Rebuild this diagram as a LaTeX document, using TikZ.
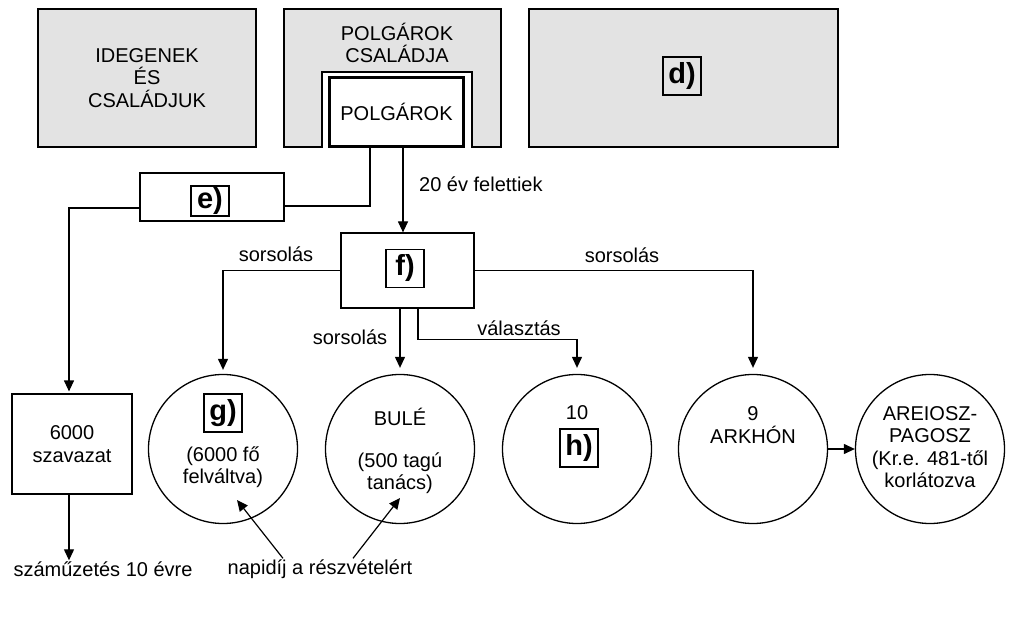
\documentclass[tikz,border=0pt]{standalone}
\usepackage{fontspec}
\setmainfont{Liberation Sans}
\usepackage{tikz}
\usetikzlibrary{arrows.meta}

\definecolor{boxgray}{HTML}{E3E3E3}

\tikzset{
  graybox/.style={draw, line width=1.2pt, fill=boxgray, align=center},
  plainbox/.style={draw, line width=1.2pt, fill=white, align=center},
  letterbox/.style={draw, line width=1.2pt, minimum width=38, minimum height=38, inner sep=0pt, font=\fontsize{29}{30}\selectfont\bfseries},
  body/.style={circle, draw, line width=1.3pt, minimum size=149, inner sep=0pt},
  txt/.style={align=center, inner sep=1pt},
  link/.style={line width=1.2pt},
  arr/.style={link, -{Triangle[length=11pt,width=10pt]}}
}

\begin{document}
\begin{tikzpicture}[x=1pt, y=-1pt, font=\fontsize{20}{22.5}\selectfont]

\useasboundingbox (0,0) rectangle (1023,628);

% the three gray boxes
\node [graybox, minimum width=218, minimum height=138] (idegenek) at (147,78) {IDEGENEK\\ÉS\\CSALÁDJUK};
\node [graybox, minimum width=217, minimum height=138] (csalad) at (392.5,78) {};
\node [txt] (csaladtxt) at (397,43) {POLGÁROK\\CSALÁDJA};
\node [graybox, minimum width=309, minimum height=138] (dbox) at (683.5,78) {};
\node [letterbox] (dlabel) at (682,76) {d)};

% the notch and the citizens
\fill [white] (322.6,72.6) rectangle (471.4,149);
\draw [link] (322,148) |- (472,72) -- (472,148);
\node [plainbox, line width=2.6pt, minimum width=134, minimum height=69] (polgarok) at (396.5,112) {POLGÁROK};

% e) box
\node [plainbox, minimum width=144, minimum height=48] (ebox) at (212,197) {};
\node [letterbox, minimum height=30] (elabel) at (210,201) {e)};
\draw [link] ([xshift=-26.5pt]polgarok.south) |- ([yshift=-9pt]ebox.east);

% f) box
\node [plainbox, minimum width=133, minimum height=75] (fbox) at (407.5,270.5) {};
\node [letterbox] (flabel) at (405,268.5) {f)};
\draw [arr] ([xshift=6.5pt]polgarok.south) -- ([xshift=6.5pt]polgarok.south |- fbox.north);
\node [anchor=west, txt] (felett) at (418,184) {20 év felettiek};

% the voting box
\node [plainbox, minimum width=120, minimum height=100] (szavazat) at (72,444) {6000\\szavazat};
\draw [arr] ([yshift=-11pt]ebox.west) -| ([xshift=-3pt, yshift=2pt]szavazat.north);
\node [txt] (szamuzes) at (103,569) {száműzetés 10 évre};
\draw [arr] ([xshift=-3pt]szavazat.south) -- ([xshift=-3pt]szavazat.south |- szamuzes.north);

% the circles
\node [body] (gcirc) at (223,449) {};
\node [letterbox] (glabel) at (223,413) {g)};
\node [txt] (gtxt) at (223,467) {(6000 fő\\felváltva)};

\node [body] (bule) at (400,449) {};
\node [txt] (buletxt) at (400,417) {BULÉ};
\node [txt] (tanacs) at (400,473) {(500 tagú\\tanács)};

\node [body] (hcirc) at (577,449) {};
\node [txt] (tiz) at (577,413) {10};
\node [letterbox] (hlabel) at (579,448) {h)};

\node [body] (arkhon) at (753,449) {};
\node [txt] (arkhontxt) at (753,425) {9\\ARKHÓN};

\node [body] (areiosz) at (930,449) {};
\node [txt] (areiosztxt) at (930,447) {AREIOSZ-\\PAGOSZ\\(Kr.e. 481-től\\korlátozva};

% the lines from f)
\draw [arr] (fbox.west) -| ([yshift=4pt]gcirc.north);
\node [txt] (sors1) at (276,254) {sorsolás};
\draw [arr] (bule.north |- fbox.south) -- ([yshift=6pt]bule.north);
\node [txt] (sors2) at (350,337) {sorsolás};
\draw [arr] ([xshift=10.5pt]fbox.south) -- ++(0,31) -| ([yshift=6pt]hcirc.north);
\node [txt] (valasztas) at (519,328) {választás};
\draw [arr] (fbox.east) -| ([yshift=6pt]arkhon.north);
\node [txt] (sors3) at (622,255) {sorsolás};
\draw [arr] (arkhon.east) -- (areiosz.west);

% the daily pay
\node [txt] (napidij) at (320,569) {napidíj a részvételért};
\coordinate (gpay) at (237,500);
\coordinate (bpay) at (400,498);
\draw [arr] ([xshift=-37pt]napidij.north) -- (gpay);
\draw [arr] ([xshift=33pt]napidij.north) -- (bpay);

\end{tikzpicture}
\end{document}
